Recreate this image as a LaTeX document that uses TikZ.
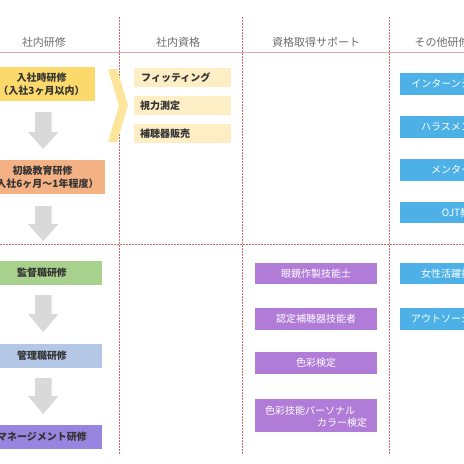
\documentclass[tikz,border=0pt]{standalone}
\usepackage{fontspec}
\setmainfont{Noto Sans CJK JP}
\usetikzlibrary{positioning}
\definecolor{hdrtext}{HTML}{6E6E6E}
\definecolor{hdrline}{HTML}{E3A3AC}
\definecolor{dashcol}{HTML}{C96A6A}
\definecolor{cyellow}{HTML}{FCD96B}
\definecolor{corange}{HTML}{F4B183}
\definecolor{cgreen}{HTML}{A9D18E}
\definecolor{cslate}{HTML}{B4C7E7}
\definecolor{cviolet}{HTML}{9686E0}
\definecolor{ccream}{HTML}{FDEEC6}
\definecolor{cchev}{HTML}{FEE59C}
\definecolor{cpurple}{HTML}{B07CD8}
\definecolor{cblue}{HTML}{4DB1E8}
\definecolor{carrow}{HTML}{D9D9D9}
\definecolor{darktext}{HTML}{333333}
\tikzset{
  hdr/.style={text=hdrtext, font=\fontsize{11}{12}\selectfont, inner sep=0pt},
  leftbox/.style={inner sep=0pt, text=darktext, align=center,
    font=\fontsize{10}{13}\selectfont\bfseries},
  qualbox/.style={fill=ccream, minimum width=97pt, minimum height=19pt, inner sep=0pt},
  qualtext/.style={anchor=west, inner sep=0pt, text=darktext, font=\fontsize{10}{12}\selectfont\bfseries},
  purplebox/.style={fill=cpurple, text=white, minimum width=122pt, inner sep=0pt,
    font=\fontsize{10}{12}\selectfont},
  bluebox/.style={fill=cblue, text=white, minimum width=122pt, inner sep=0pt,
    font=\fontsize{10}{12}\selectfont},
  dashline/.style={draw=dashcol, line width=0.6pt, dash pattern=on 1.6pt off 1.4pt},
  blockarrow/.style={fill=carrow}
}
\begin{document}
\begin{tikzpicture}[x=1pt,y=-1pt]
\useasboundingbox (0,0) rectangle (464,464);
\clip (0,0) rectangle (464,464);
\fill[white] (0,0) rectangle (464,464);

% grid lines
\draw[hdrline, line width=0.8pt] (0,52) -- (464,52);
\draw[dashline] (119,17) -- (119,455);
\draw[dashline] (242,17) -- (242,455);
\draw[dashline] (389,17) -- (389,455);
\draw[dashline] (0,244) -- (464,244);

% headers
\node[hdr] (h1) at (44,42) {社内研修};
\node[hdr] (h2) at (178,42) {社内資格};
\node[hdr] (h3) at (316,42) {資格取得サポート};
\node[hdr] (h4) at (442,42) {その他研修};

% left column
\node[leftbox, fill=cyellow, minimum width=107pt, minimum height=34pt] (b1) at (41.5,84) {入社時研修\\（入社3ヶ月以内）};
\node[leftbox, fill=corange, minimum width=125pt, minimum height=34pt] (b2) at (42.5,177) {初級教育研修\\（入社6ヶ月〜1年程度）};
\node[leftbox, fill=cgreen, minimum width=120pt, minimum height=24pt] (b3) at (42,273) {監督職研修};
\node[leftbox, fill=cslate, minimum width=120pt, minimum height=24pt] (b4) at (42,355.5) {管理職研修};
\node[leftbox, fill=cviolet, minimum width=120pt, minimum height=24pt] (b5) at (42,437) {マネージメント研修};

% block arrows
\foreach \t/\h/\b in {112/132/149, 206/224/241, 295/314/332, 378/396/414}{
  \fill[blockarrow] (35,\t) -- (51.5,\t) -- (51.5,\h) -- (58.5,\h) -- (43.25,\b) -- (28,\h) -- (35,\h) -- cycle;
}

% chevron
\fill[cchev] (108,69) -- (117,69) -- (128,105.5) -- (117,142) -- (108,142) -- (119,105.5) -- cycle;

% qualifications
\node[qualbox] (q1) at (182.5,77.5) {};
\node[qualtext] (q1t) at (141,77.5) {フィッティング};
\node[qualbox] (q2) at (182.5,105.5) {};
\node[qualtext] (q2t) at (140,105.5) {視力測定};
\node[qualbox] (q3) at (182.5,133.5) {};
\node[qualtext] (q3t) at (140,133.5) {補聴器販売};

% support column
\node[purplebox, minimum height=21pt] (p1) at (316,273.5) {眼鏡作製技能士};
\node[purplebox, minimum height=22pt] (p2) at (316,319) {認定補聴器技能者};
\node[purplebox, minimum height=22pt] (p3) at (316,363) {色彩検定};
\node[purplebox, minimum height=33pt] (p4) at (316,415.5) {};
\node[text=white, inner sep=0pt, text width=102pt, align=left,
  font=\fontsize{10}{12.5}\selectfont] (p4t) at (316,416.5) {色彩技能パーソナル\\\hfill カラー検定};

% other trainings
\node[bluebox, minimum height=22pt] (o1) at (461,84) {インターンシップ研修};
\node[bluebox, minimum height=22pt] (o2) at (461,127) {ハラスメント研修};
\node[bluebox, minimum height=22pt] (o3) at (461,170) {メンター研修};
\node[bluebox, minimum height=21pt] (o4) at (461,212.5) {OJT教育};
\node[bluebox, minimum height=21pt] (o5) at (461,273.5) {女性活躍推進研修};
\node[bluebox, minimum height=22pt] (o6) at (461,319) {アウトソーシング研修};
\end{tikzpicture}
\end{document}
